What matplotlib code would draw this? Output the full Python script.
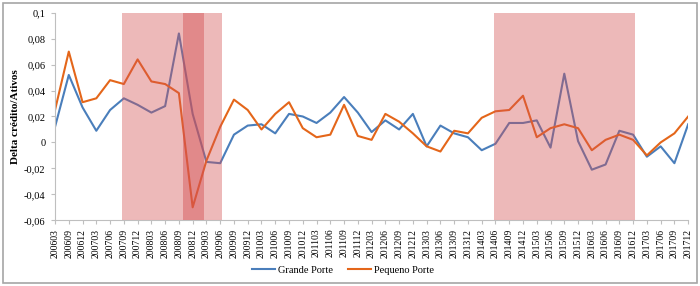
"""Delta crédito/Ativos - grande vs pequeno porte"""
import matplotlib
matplotlib.use('Agg')
import matplotlib.pyplot as plt
from matplotlib.patches import Rectangle
from matplotlib.ticker import FuncFormatter

trimestres = ['200603', '200609', '200612',
              '200703', '200706', '200709', '200712',
              '200803', '200806', '200809', '200812',
              '200903', '200906', '200909', '200912',
              '201003', '201006', '201009', '201012',
              '201103', '201106', '201109', '201112',
              '201203', '201206', '201209', '201212',
              '201303', '201306', '201309', '201312',
              '201403', '201406', '201409', '201412',
              '201503', '201506', '201509', '201512',
              '201603', '201606', '201609', '201612',
              '201703', '201706', '201709', '201712']

grande = [0.012, 0.052, 0.027, 0.009, 0.025, 0.034, 0.029, 0.023, 0.028, 0.084,
          0.022, -0.015, -0.016, 0.006, 0.013, 0.014, 0.007, 0.022, 0.020, 0.015,
          0.023, 0.035, 0.023, 0.008, 0.017, 0.010, 0.022, -0.003, 0.013, 0.007,
          0.004, -0.006, -0.001, 0.015, 0.015, 0.017, -0.004, 0.053, 0.001, -0.021,
          -0.017, 0.009, 0.006, -0.011, -0.003, -0.016, 0.014]

pequeno = [0.025, 0.070, 0.031, 0.034, 0.048, 0.045, 0.064, 0.047, 0.045, 0.038,
           -0.050, -0.014, 0.012, 0.033, 0.025, 0.010, 0.022, 0.031, 0.011, 0.004,
           0.006, 0.029, 0.005, 0.002, 0.022, 0.016, 0.007, -0.003, -0.007, 0.009,
           0.007, 0.019, 0.024, 0.025, 0.036, 0.004, 0.011, 0.014, 0.011, -0.006,
           0.002, 0.006, 0.002, -0.010, 0.000, 0.007, 0.020]

# periodos de crise (trimestre inicial, trimestre final)
crises = [('200709', '200906'), ('201406', '201612')]
crise_forte = ('200812', '200812')

plt.rcParams['font.family'] = ['Liberation Serif', 'DejaVu Serif']

fig = plt.figure(figsize=(7, 2.86), dpi=100)
ax = fig.add_axes([0.0786, 0.2297, 0.9045, 0.726])

x = list(range(len(trimestres)))
ax.plot(x, grande, color='#4A7EBB', lw=1.5, label='Grande Porte', zorder=2)
ax.plot(x, pequeno, color='#E4661A', lw=1.5, label='Pequeno Porte', zorder=2)

idx = {t: i for i, t in enumerate(trimestres)}
for ini, fim in crises:
    ax.axvspan(idx[ini] - 0.1, idx[fim] + 0.15, color='#D45052', alpha=0.4,
               lw=0, zorder=3)
ax.axvspan(idx[crise_forte[0]] - 0.7, idx[crise_forte[1]] + 0.8,
           color='#D45052', alpha=0.45, lw=0, zorder=3)

ax.set_xlim(0, len(trimestres) - 1)
ax.set_ylim(-0.06, 0.1)
ax.set_yticks([-0.06, -0.04, -0.02, 0, 0.02, 0.04, 0.06, 0.08, 0.1])
ax.yaxis.set_major_formatter(FuncFormatter(
    lambda v, p: ('%g' % round(v + 0.0, 2)).replace('.', ',') if abs(v) > 1e-9 else '0'))
ax.set_xticks(x)
ax.set_xticklabels(trimestres, rotation=90, fontsize=7)
ax.tick_params(axis='y', labelsize=7.5, length=3, color='#BFBFBF', pad=4)
ax.tick_params(axis='x', length=3, color='#BFBFBF', pad=3)

for s in ['top', 'right']:
    ax.spines[s].set_visible(False)
for s in ['left', 'bottom']:
    ax.spines[s].set_color('#BFBFBF')
    ax.spines[s].set_linewidth(0.8)

ax.set_ylabel('Delta crédito/Ativos', fontsize=8, fontweight='bold', labelpad=3)

fig.legend(loc='center', bbox_to_anchor=(0.49, 0.056), ncol=2, frameon=False,
           fontsize=7.5, handlelength=2.2, handletextpad=0.3, columnspacing=1.5)

fig.patches.append(Rectangle((3 / 700, 3 / 286), 694 / 700, 280 / 286,
                             transform=fig.transFigure, fill=False,
                             edgecolor='#A6A6A6', lw=1.2))

fig.savefig('out.png', dpi=100)
